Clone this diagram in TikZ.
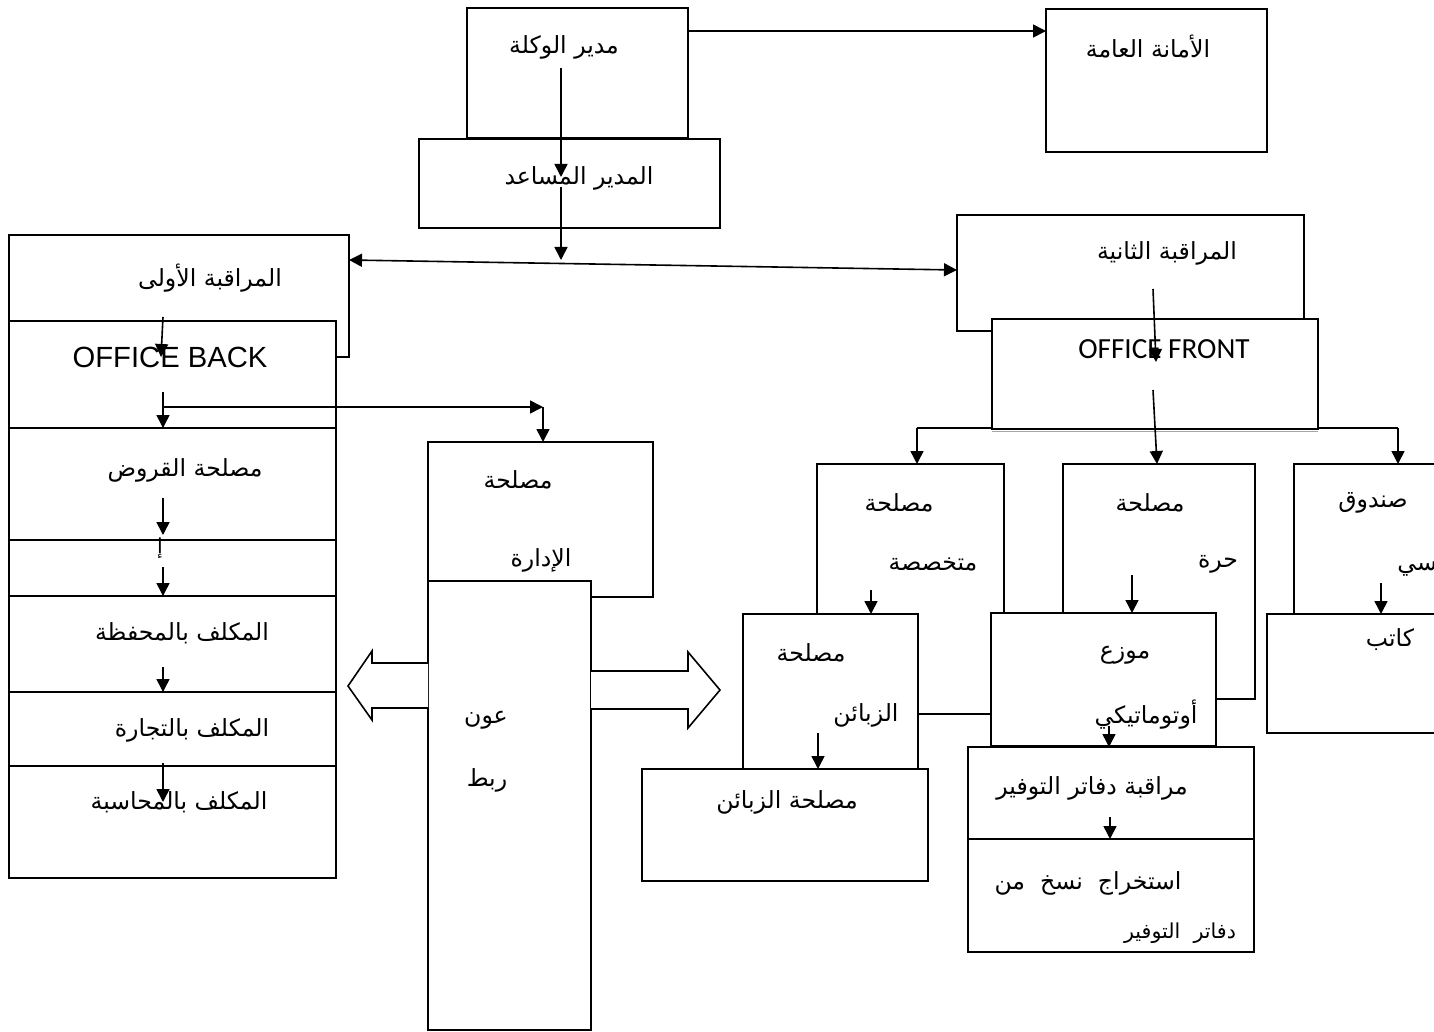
\documentclass[tikz,border=0pt]{standalone}
\usepackage{fontspec}
\setmainfont{Liberation Sans}
\newfontfamily\arabicfont[Script=Arabic]{DejaVu Sans}
\newfontfamily\carlitofont{Carlito}
\TeXXeTstate=1
\usetikzlibrary{arrows.meta}
\newcommand\AR[1]{{\arabicfont\beginR #1\endR}}
\newcommand\mybox[5]{\node[box, minimum width={0.5pt*(#4-#2)}, minimum height={0.5pt*(#5-#3)}] (#1) at ({(#2+#4)/2},{(#3+#5)/2}) {};}
\begin{document}
\begin{tikzpicture}[x=0.5pt,y=-0.5pt,
  box/.style={draw, fill=white, line width=0.8pt, inner sep=0pt, outer sep=0pt},
  lbl/.style={inner sep=0pt, font=\arabicfont\fontsize{11.8}{13}\selectfont},
  small/.style={inner sep=0pt, font=\arabicfont\fontsize{10.3}{12}\selectfont},
  lat/.style={inner sep=0pt, font=\fontsize{14.6}{16}\selectfont},
  arr/.style={line width=0.8pt, -{Triangle[length=6.5pt,width=6.5pt]}},
  darr/.style={line width=0.8pt, {Triangle[length=6.5pt,width=6.5pt]}-{Triangle[length=6.5pt,width=6.5pt]}},
  link/.style={line width=0.8pt}]
\useasboundingbox (0,0) rectangle (1434,1032);
\clip (0,0) rectangle (1434,1032);
% top
\mybox{modir}{467}{8}{688}{138}
\mybox{mosaed}{419}{139}{720}{228}
\mybox{amana}{1046}{9}{1267}{152}
% left column
\mybox{ula}{9}{235}{349}{357}
\mybox{back}{9}{321}{336}{428}
\mybox{thin}{9}{540}{336}{596}
\mybox{qurud}{9}{428}{336}{540}
\mybox{mahfaza}{9}{596}{336}{692}
\mybox{tijara}{9}{692}{336}{766}
\mybox{muhasaba}{9}{766}{336}{878}
% middle
\mybox{idara}{428}{442}{653}{597}
\mybox{awn}{428}{581}{591}{1030}
\draw[link, fill=white] (awn.west |- 0,663) -- (372,663) -- (372,651) -- (348,686) -- (372,720) -- (372,708) -- (awn.west |- 0,708);
\draw[link, fill=white] (awn.east |- 0,671) -- (688,671) -- (688,652) -- (720,690) -- (688,728) -- (688,709) -- (awn.east |- 0,709);
% right
\mybox{thania}{957}{215}{1304}{331}
\mybox{front}{992}{319}{1318}{429}
\draw[gray!70, line width=0.6pt] (front.south west) ++(0,2.5) -- ++(326,0);
\coordinate (brL) at (917,428);
\coordinate (brR) at (1398,428);
\draw[link] (brL) -- (front.south west |- brL);
\draw[link] (front.south east |- brR) -- (brR);
\mybox{mutakh}{817}{464}{1004}{714}
\mybox{hurra}{1063}{464}{1255}{699}
\mybox{sunduq}{1294}{464}{1460}{700}
\mybox{katib}{1267}{614}{1460}{733}
\mybox{zabainA}{743}{614}{918}{769}
\mybox{muwazi}{991}{613}{1216}{746}
\mybox{zabainB}{642}{769}{928}{881}
\mybox{muraqaba}{968}{747}{1254}{839}
\mybox{istikhraj}{968}{839}{1254}{952}
% texts
\node[lbl] (t1) at (564,47) {\AR{مدير الوكلة}};
\node[lbl] (t2) at (579,178) {\AR{المدير المساعد}};
\node[lbl] (t3) at (1148,47) {\AR{الأمانة العامة}};
\node[lbl] (t4) at (210,278) {\AR{المراقبة الأولى}};
\node[lat] (t5) at (170,357) {OFFICE BACK};
\node[lbl] (t6) at (185,470) {\AR{مصلحة القروض}};
\node[small] (t6b) at (160,548) {\AR{إ}};
\node[lbl] (t7) at (182,633) {\AR{المكلف بالمحفظة}};
\node[lbl] (t8) at (192,730) {\AR{المكلف بالتجارة}};
\node[lbl] (t9) at (179,802) {\AR{المكلف بالمحاسبة}};
\node[lbl] (t10) at (518,480) {\AR{مصلحة}};
\node[lbl] (t11) at (541,560) {\AR{الإدارة}};
\node[lbl] (t12) at (486,720) {\AR{عون}};
\node[lbl] (t13) at (487,780) {\AR{ربط}};
\node[lbl] (t14) at (1167,253) {\AR{المراقبة الثانية}};
\node[inner sep=0pt, font=\carlitofont\fontsize{14.6}{16}\selectfont] (t15) at (1164,349) {OFFICE FRONT};
\node[lbl] (t16) at (899,503) {\AR{مصلحة}};
\node[lbl] (t17) at (933,564) {\AR{متخصصة}};
\node[lbl] (t18) at (1150,503) {\AR{مصلحة}};
\node[lbl] (t19) at (1218,564) {\AR{حرة}};
\node[lbl] (t20) at (1373,503) {\AR{صندوق}};
\node[lbl, anchor=west] (t21) at (1397,566) {\AR{رئيسي}};
\node[lbl] (t22) at (1390,640) {\AR{كاتب}};
\node[lbl] (t23) at (1125,655) {\AR{موزع}};
\node[lbl] (t24) at (1146,715) {\AR{أوتوماتيكي}};
\node[lbl] (t25) at (811,653) {\AR{مصلحة}};
\node[lbl] (t26) at (866,715) {\AR{الزبائن}};
\node[lbl] (t27) at (787,802) {\AR{مصلحة الزبائن}};
\node[lbl] (t28) at (1092,788) {\AR{مراقبة دفاتر التوفير}};
\node[lbl] (t29) at (1088,883) {\AR{استخراج\ \ نسخ\ \ من}};
\node[small] (t30) at (1180,933) {\AR{دفاتر\ \ التوفير}};
% connectors
\coordinate (a1) at (561,68);
\draw[arr] (a1) -- (a1 |- 0,177);
\coordinate (a2) at (561,187);
\coordinate (mid) at (561,260);
\draw[arr] (a2) -- (mid);
\draw[arr] (modir.east |- 0,31) -- (amana.west |- 0,31);
\coordinate (dL) at (349,260);
\coordinate (dR) at (957,270);
\draw[darr] (dL) -- (dR);
\coordinate (b1) at (163,317);
\draw[arr] (b1) -- (161,357);
\coordinate (b2) at (163,392);
\draw[arr] (b2) -- (b2 |- qurud.north);
\coordinate (b3) at (163,407);
\coordinate (b4) at (543,407);
\draw[arr] (b3) -- (b4);
\draw[arr] (b4) -- (b4 |- idara.north);
\coordinate (b5) at (163,498);
\draw[arr] (b5) -- (163,535);
\coordinate (b6) at (163,567);
\draw[arr] (b6) -- (b6 |- mahfaza.north);
\coordinate (b7) at (163,667);
\draw[arr] (b7) -- (b7 |- tijara.north);
\coordinate (b8) at (163,763);
\draw[arr] (b8) -- (163,802);
\coordinate (f1) at (1153,289);
\draw[arr] (f1) -- (1156,362);
\coordinate (f2) at (1153,390);
\draw[arr] (f2) -- (1157,464);
\draw[arr] (brL) -- (brL |- mutakh.north);
\draw[arr] (brR) -- (brR |- sunduq.north);
\coordinate (g1) at (871,590);
\draw[arr] (g1) -- (g1 |- zabainA.north);
\coordinate (g2) at (1132,575);
\draw[arr] (g2) -- (g2 |- muwazi.north);
\coordinate (g3) at (1381,583);
\draw[arr] (g3) -- (g3 |- katib.north);
\coordinate (g4) at (818,733);
\draw[arr] (g4) -- (g4 |- zabainB.north);
\coordinate (g5) at (1109,726);
\draw[arr] (g5) -- (g5 |- muraqaba.north);
\coordinate (g6) at (1110,817);
\draw[arr] (g6) -- (g6 |- istikhraj.north);
\end{tikzpicture}
\end{document}
